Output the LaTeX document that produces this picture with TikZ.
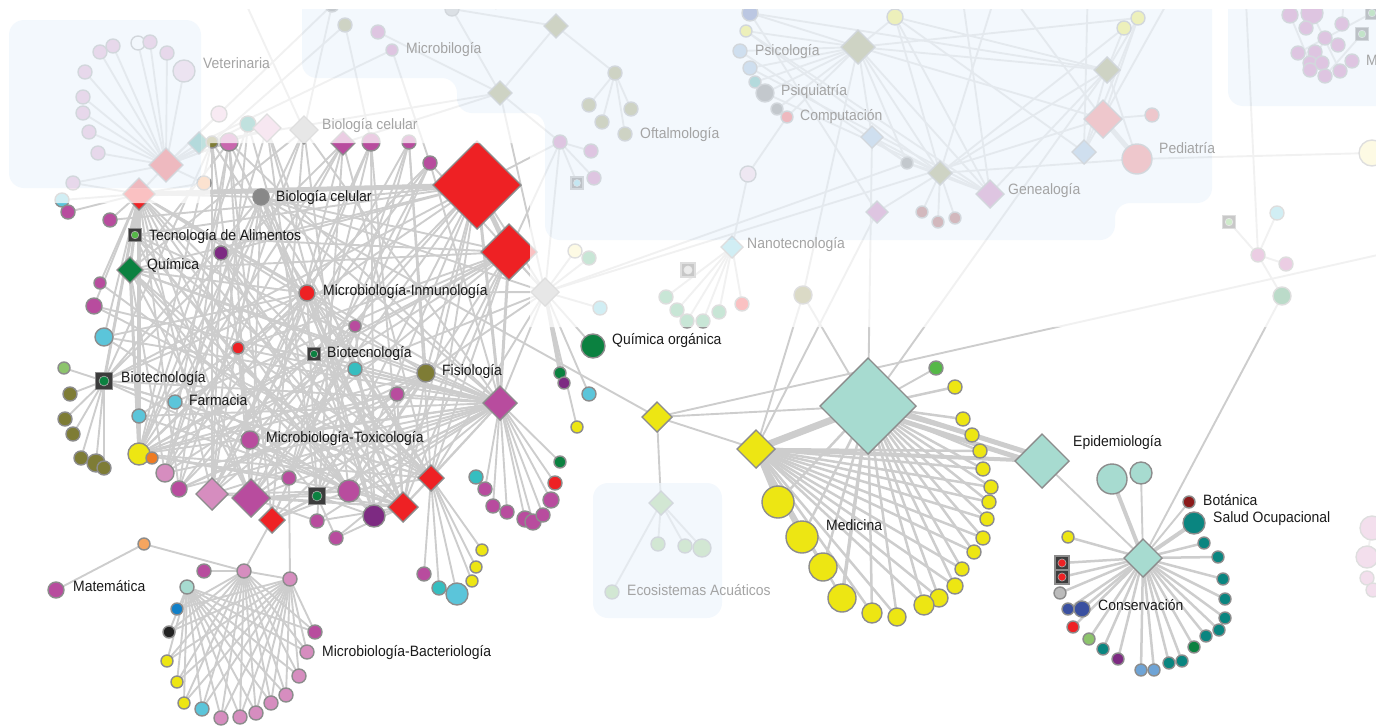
\documentclass[tikz,border=0pt]{standalone}
\usepackage{fontspec}
\newfontfamily\labfont{Liberation Sans}[FakeStretch=0.93]
\usetikzlibrary{shapes.geometric}
\definecolor{cred}{HTML}{EE2124}
\definecolor{cred2}{HTML}{EE5050}
\definecolor{cmag}{HTML}{B84C9E}
\definecolor{cmagl}{HTML}{C966AE}
\definecolor{cpinkl}{HTML}{D68DBF}
\definecolor{cpinkvl}{HTML}{E9B7D6}
\definecolor{cpinkv2}{HTML}{E3AAD0}
\definecolor{cpinkvvl}{HTML}{F1C6DB}
\definecolor{cpurple}{HTML}{7D2A82}
\definecolor{cdkgreen}{HTML}{0B8140}
\definecolor{clgreen}{HTML}{8DC46C}
\definecolor{clgreen2}{HTML}{55B847}
\definecolor{colive}{HTML}{7E7C35}
\definecolor{ccyan}{HTML}{5BC5DA}
\definecolor{cteal}{HTML}{36BEC0}
\definecolor{cteald}{HTML}{1E968C}
\definecolor{cteald2}{HTML}{0A8580}
\definecolor{cyellow}{HTML}{EDE613}
\definecolor{cyelp}{HTML}{F8F0A0}
\definecolor{cmint}{HTML}{A7DBD0}
\definecolor{cmint2}{HTML}{3BA66D}
\definecolor{cgrey}{HTML}{888888}
\definecolor{cgreyl}{HTML}{AAAAAA}
\definecolor{cgreyl2}{HTML}{BBBBBB}
\definecolor{cgreyd}{HTML}{555555}
\definecolor{corange}{HTML}{F49757}
\definecolor{corange2}{HTML}{EE7B22}
\definecolor{corangel}{HTML}{F5A55F}
\definecolor{cblue}{HTML}{1180C8}
\definecolor{cblack}{HTML}{222222}
\definecolor{cnavy}{HTML}{3A50A0}
\definecolor{csteel}{HTML}{6FA4D6}
\definecolor{cdkred}{HTML}{8B1A1A}
\definecolor{clblue}{HTML}{7FA6CF}
\definecolor{cedge}{HTML}{CDCDCD}
\definecolor{cstroke}{HTML}{8C8C8C}
\definecolor{csq}{HTML}{3C3C3C}
\definecolor{cpanel}{HTML}{EEF5FC}
\definecolor{ctext}{HTML}{1A1A1A}
\definecolor{cftext}{HTML}{A4A4A4}
\tikzset{
  cnode/.style={circle,draw=cstroke,line width=1.4pt,inner sep=0pt,outer sep=0pt},
  dnode/.style={diamond,draw=cstroke,line width=1.4pt,inner sep=0pt,outer sep=0pt},
  sqnode/.style={rectangle,draw=cstroke,fill=csq,line width=1.2pt,inner sep=0pt},
  sqdot/.style={circle,draw=cstroke!70,line width=0.6pt,inner sep=0pt},
  ed/.style={draw=cedge,line width=1.9pt},
  edm/.style={draw=cedge,line width=2.5pt},
  lab/.style={font=\labfont\fontsize{15pt}{18pt}\selectfont,inner sep=0pt,anchor=base west,text=ctext},
  flab/.style={lab,text=cftext}
}
\newcommand\setdef{%
  \def\NC##1##2##3##4##5{\coordinate (##1) at (##2,##3);}%
  \def\ND##1##2##3##4##5{\coordinate (##1) at (##2,##3);}%
  \def\NS##1##2##3##4##5{\coordinate (##1) at (##2,##3);}}
\newcommand\setdraw{%
  \def\NC##1##2##3##4##5{\node[cnode,minimum size=##4pt,fill=##5] (##1-n) at (##1) {};}%
  \def\ND##1##2##3##4##5{\node[dnode,minimum width=##4pt,minimum height=##4pt,fill=##5] (##1-n) at (##1) {};}%
  \def\NS##1##2##3##4##5{\node[sqnode,minimum size=##4pt] (##1-n) at (##1) {};\node[sqdot,minimum size=0.58*##4pt,fill=##5] (##1-d) at (##1) {};}}
\newcommand\allnodes{%
% Veterinaria (faded)
\NC{v1}{100}{52}{14}{cpinkl}
\NC{v2}{113}{46}{14}{cpinkl}
\NC{v3}{138}{43}{14}{white}
\NC{v4}{150}{42}{14}{cpinkl}
\NC{v5}{167}{53}{14}{cpinkl}
\NC{v6}{184}{71}{22}{cpinkvl}
\NC{v7}{85}{72}{14}{cpinkl}
\NC{v8}{83}{97}{14}{cpinkl}
\NC{v9}{83}{113}{14}{cpinkl}
\NC{v10}{89}{132}{14}{cpinkl}
\NC{v11}{98}{153}{14}{cpinkl}
\NC{v12}{219}{114}{16}{cpinkvl}
\NC{v13}{73}{183}{14}{cpinkl}
\ND{l11}{166}{165}{34}{cred}
\ND{l10}{139}{194}{32}{cred}
\ND{l12}{199}{143}{22}{cteald}
\NC{l13}{204}{183}{14}{corange}
\NC{l14}{62}{200}{14}{ccyan}
\NC{l16}{68}{212}{14}{cmag}
\NC{l17}{110}{220}{14}{cmag}
% top row
\NC{l1}{212}{142}{12}{colive}
\NC{l2}{229}{142}{18}{cmagl}
\NC{l3}{248}{124}{16}{cteald}
\ND{l4}{267}{128}{28}{cpinkv2}
\ND{l5}{304}{130}{28}{cgreyl}
\ND{l6}{343}{143}{24}{cmag}
\NC{l7}{371}{142}{18}{cmag}
\NC{l8}{409}{142}{14}{cmag}
\NC{l9}{430}{163}{14}{cmag}
\ND{R1}{477}{185}{88}{cred}
\ND{R2}{509}{252}{56}{cred}
\ND{g1}{545}{292}{28}{cgreyl}
% main cluster
\NC{bc}{261}{197}{16}{cgrey}
\NS{ta}{135}{235}{13}{clgreen2}
\NC{p1}{221}{253}{14}{cpurple}
\ND{qu}{130}{270}{26}{cdkgreen}
\NC{l18}{100}{283}{12}{cmag}
\NC{l19}{94}{306}{16}{cmag}
\NC{l20}{104}{337}{18}{ccyan}
\NC{mi}{307}{293}{16}{cred}
\NC{l21}{355}{326}{12}{cmag}
\NC{l22}{238}{348}{12}{cred}
\NS{bt1}{314}{354}{13}{cdkgreen}
\NC{l23}{355}{369}{14}{cteal}
\NC{fi}{426}{373}{18}{colive}
\NC{l24}{64}{368}{12}{clgreen}
\NS{bt2}{104}{381}{17}{cdkgreen}
\NC{l25}{70}{394}{14}{colive}
\NC{fa}{175}{402}{14}{ccyan}
\NC{l26}{397}{394}{14}{cmag}
\ND{M1}{500}{403}{34}{cmag}
\NC{l27}{65}{419}{14}{colive}
\NC{l28}{73}{434}{14}{colive}
\NC{l29}{139}{416}{14}{ccyan}
\NC{mt}{250}{440}{18}{cmag}
\NC{l30}{81}{458}{14}{colive}
\NC{l31}{96}{463}{18}{colive}
\NC{l32}{104}{468}{14}{colive}
\NC{l33}{139}{454}{22}{cyellow}
\NC{l34}{152}{458}{12}{corange2}
\NC{l35}{165}{473}{18}{cpinkl}
\NC{l36}{289}{478}{14}{cmag}
\ND{R3}{431}{478}{26}{cred}
\NC{l37}{476}{477}{14}{cteal}
\NC{l38}{179}{489}{16}{cmag}
\ND{D1}{212}{494}{32}{cpinkl}
\ND{D2}{251}{498}{38}{cmag}
\ND{R4}{272}{520}{26}{cred}
\NS{bt3}{317}{496}{17}{cdkgreen}
\NC{l39}{349}{491}{22}{cmag}
\NC{l40}{317}{521}{14}{cmag}
\NC{l41}{374}{516}{22}{cpurple}
\ND{R5}{403}{507}{30}{cred}
\NC{l42}{336}{538}{14}{cmag}
\NC{f1}{485}{489}{14}{cmag}
\NC{f2}{493}{506}{14}{cmag}
\NC{f3}{507}{512}{14}{cmag}
\NC{f4}{525}{519}{16}{cmag}
\NC{f5}{533}{522}{16}{cmag}
\NC{f6}{543}{515}{14}{cmag}
\NC{f7}{551}{500}{16}{cmag}
\NC{f8}{555}{483}{14}{cred}
\NC{f9}{560}{462}{12}{cdkgreen}
\NC{h1}{424}{574}{14}{cmag}
\NC{h2}{439}{588}{14}{cteal}
\NC{h3}{457}{594}{22}{ccyan}
\NC{h4}{472}{581}{12}{cyellow}
\NC{h5}{476}{567}{12}{cyellow}
\NC{h6}{482}{550}{12}{cyellow}
\NC{q1}{560}{373}{12}{cdkgreen}
\NC{q2}{564}{383}{12}{cpurple}
\NC{q3}{589}{394}{14}{ccyan}
\NC{q4}{577}{427}{12}{cyellow}
\NC{qo}{593}{346}{24}{cdkgreen}
% Bacteriologia
\NC{ma}{56}{590}{16}{cmag}
\NC{or}{144}{544}{12}{corangel}
\NC{b1}{204}{571}{14}{cmag}
\NC{b2}{244}{571}{14}{cpinkl}
\NC{b3}{290}{579}{14}{cpinkl}
\NC{b4}{187}{587}{14}{cmint}
\NC{a1}{177}{609}{12}{cblue}
\NC{a2}{169}{632}{12}{cblack}
\NC{a3}{167}{661}{12}{cyellow}
\NC{a4}{177}{682}{12}{cyellow}
\NC{a5}{184}{703}{12}{cyellow}
\NC{a6}{202}{709}{14}{ccyan}
\NC{a7}{221}{718}{14}{cpinkl}
\NC{a8}{240}{717}{14}{cpinkl}
\NC{a9}{256}{713}{14}{cpinkl}
\NC{a10}{271}{703}{14}{cpinkl}
\NC{a11}{286}{695}{14}{cpinkl}
\NC{a12}{299}{676}{14}{cpinkl}
\NC{a13}{307}{652}{14}{cpinkl}
\NC{a14}{315}{632}{14}{cmag}
% Medicina
\ND{Y1}{657}{417}{30}{cyellow}
\ND{Y2}{756}{449}{38}{cyellow}
\ND{MH}{868}{406}{96}{cmint}
\NC{m0}{936}{368}{14}{clgreen2}
\NC{m1}{955}{387}{14}{cyellow}
\NC{m2}{963}{419}{14}{cyellow}
\NC{m3}{972}{435}{14}{cyellow}
\NC{m4}{980}{451}{14}{cyellow}
\NC{m5}{983}{469}{14}{cyellow}
\NC{m6}{991}{487}{14}{cyellow}
\NC{m7}{989}{502}{14}{cyellow}
\NC{m8}{987}{519}{14}{cyellow}
\NC{m9}{983}{538}{14}{cyellow}
\NC{m10}{974}{552}{14}{cyellow}
\NC{m11}{962}{569}{14}{cyellow}
\NC{m12}{955}{586}{16}{cyellow}
\NC{m13}{939}{598}{18}{cyellow}
\NC{m14}{924}{605}{20}{cyellow}
\NC{m15}{897}{617}{18}{cyellow}
\NC{m16}{872}{613}{20}{cyellow}
\NC{m17}{842}{598}{28}{cyellow}
\NC{m18}{823}{567}{28}{cyellow}
\NC{m19}{802}{537}{32}{cyellow}
\NC{m20}{778}{502}{32}{cyellow}
% Epidemiologia / Conservacion
\ND{EP}{1042}{461}{54}{cmint}
\NC{e1}{1112}{479}{30}{cmint}
\NC{e2}{1141}{473}{22}{cmint}
\NC{e3}{1189}{502}{12}{cdkred}
\NC{e4}{1194}{523}{22}{cteald2}
\ND{CO}{1143}{558}{38}{cmint}
\NC{c1}{1068}{537}{12}{cyellow}
\NS{c2}{1062}{563}{14}{cred}
\NS{c3}{1062}{577}{14}{cred}
\NC{c4}{1060}{593}{12}{cgreyl2}
\NC{c5}{1068}{609}{12}{cnavy}
\NC{c6}{1082}{609}{16}{cnavy}
\NC{c7}{1073}{627}{12}{cred}
\NC{c8}{1089}{639}{12}{clgreen}
\NC{c9}{1103}{649}{12}{cteald2}
\NC{c10}{1118}{659}{12}{cpurple}
\NC{c11}{1141}{670}{12}{csteel}
\NC{c12}{1154}{670}{12}{csteel}
\NC{c13}{1169}{663}{12}{cteald2}
\NC{c14}{1182}{661}{12}{cteald2}
\NC{c15}{1194}{647}{12}{cdkgreen}
\NC{c16}{1206}{636}{12}{cteald2}
\NC{c17}{1219}{630}{12}{cteald2}
\NC{c18}{1225}{618}{12}{cteald2}
\NC{c19}{1225}{599}{12}{cteald2}
\NC{c20}{1223}{579}{12}{cteald2}
\NC{c21}{1218}{557}{12}{cteald2}
\NC{c22}{1204}{543}{12}{cteald2}
% top middle (faded)
\NC{t1}{332}{5}{14}{cgreyd}
\NC{t2}{345}{25}{14}{colive}
\NC{t3}{378}{32}{14}{cmag}
\NC{t4}{392}{50}{12}{cmag}
\NC{t5}{452}{9}{14}{cgreyl}
\ND{K1}{556}{26}{24}{colive}
\ND{K2}{500}{93}{24}{colive}
\NC{t6}{615}{73}{14}{colive}
\NC{t7}{589}{105}{14}{colive}
\NC{t8}{631}{109}{14}{colive}
\NC{t9}{602}{122}{14}{colive}
\NC{t10}{625}{134}{14}{colive}
\NC{P1}{560}{142}{14}{cmag}
\NC{p2}{591}{151}{14}{cmag}
\NC{p3}{594}{178}{14}{cmag}
\NS{p4}{577}{183}{12}{ccyan}
% Psicologia etc.
\NC{s1}{750}{13}{16}{cnavy}
\NC{s2}{746}{31}{12}{cyellow}
\NC{s3}{740}{51}{14}{clblue}
\NC{s4}{750}{68}{14}{clblue}
\NC{s5}{755}{82}{12}{cteald}
\NC{s6}{765}{93}{18}{cgreyd}
\NC{s7}{777}{109}{12}{cgreyd}
\NC{s8}{787}{117}{12}{cred}
\ND{K3}{858}{47}{34}{colive}
\NC{s9}{895}{17}{16}{cyellow}
\NC{s10}{748}{174}{16}{cpinkvvl}
\ND{s11}{872}{137}{22}{clblue}
\NC{s12}{907}{163}{12}{cgreyd}
\ND{K4}{940}{173}{24}{colive}
\ND{s13}{877}{212}{22}{cmag}
\ND{ge}{990}{194}{28}{cmag}
\NC{s14}{922}{212}{12}{cdkred}
\NC{s15}{938}{222}{12}{cdkred}
\NC{s16}{955}{218}{12}{cdkred}
\NC{s17}{1138}{18}{14}{cyellow}
\NC{s18}{1124}{28}{14}{cyellow}
\ND{K5}{1107}{70}{26}{colive}
\ND{pd1}{1103}{119}{38}{cred2}
\NC{pd2}{1152}{115}{14}{cred2}
\ND{s19}{1084}{152}{24}{clblue}
\NC{pd}{1137}{159}{30}{cred2}
\NC{s20}{1372}{153}{26}{cyelp}
% right panel
\NC{r1}{1290}{15}{16}{cmag}
\NC{r2}{1312}{13}{22}{cmag}
\NC{r3}{1306}{28}{14}{cmag}
\NC{r4}{1342}{24}{14}{cmag}
\NC{r5}{1325}{38}{14}{cmag}
\NC{r6}{1338}{45}{14}{cmag}
\NC{r7}{1298}{53}{14}{cmag}
\NC{r8}{1315}{52}{14}{cmag}
\NC{r9}{1310}{63}{14}{cmag}
\NC{r10}{1322}{63}{14}{cmag}
\NC{r11}{1310}{70}{14}{cmag}
\NC{r12}{1325}{76}{14}{cmag}
\NC{r13}{1340}{71}{14}{cmag}
\NC{r14}{1352}{61}{14}{cmag}
\NS{rs1}{1372}{13}{13}{clgreen2}
\NS{rs2}{1362}{34}{13}{clgreen2}
\NS{u1}{1229}{222}{13}{clgreen2}
\NC{u2}{1277}{213}{14}{ccyan}
\NC{u3}{1258}{255}{14}{cmag}
\NC{u4}{1286}{264}{14}{cmag}
\NC{u5}{1282}{296}{18}{cdkgreen}
% Nanotecnologia
\ND{na}{732}{247}{22}{ccyan}
\NS{n0}{688}{270}{14}{cgreyl2}
\NC{n1}{666}{297}{14}{cmint2}
\NC{n2}{677}{310}{14}{cmint2}
\NC{n3}{687}{321}{14}{cmint2}
\NC{n4}{703}{321}{14}{cmint2}
\NC{n5}{719}{312}{14}{cmint2}
\NC{n6}{742}{304}{14}{cred}
\NC{w1}{575}{251}{14}{cyelp}
\NC{w2}{589}{258}{14}{cmint2}
\NC{w3}{600}{308}{14}{ccyan}
\NC{w4}{803}{295}{18}{colive}
% Ecosistemas
\ND{ec}{661}{503}{24}{clgreen}
\NC{ec1}{658}{544}{14}{clgreen}
\NC{ec2}{685}{546}{14}{clgreen}
\NC{ec3}{702}{548}{18}{clgreen}
\NC{ec4}{612}{592}{14}{clgreen}
% right edge (faded)
\NC{z1}{1372}{528}{24}{cpinkl}
\NC{z2}{1367}{557}{22}{cpinkl}
\NC{z3}{1367}{578}{14}{cpinkl}
\NC{z4}{1373}{590}{14}{cpinkl}
}
\begin{document}
\begin{tikzpicture}[x=1pt,y=-1pt]
\useasboundingbox (0,0) rectangle (1387,726);
\clip (0,0) rectangle (1387,726);
\coordinate (offB) at (235,-20);
\coordinate (offC) at (1245,-20);
\coordinate (offE) at (1400,250);
\coordinate (offF) at (1088,-20);
\coordinate (offG) at (1000,-20);
\coordinate (offH) at (960,-20);
\coordinate (offI) at (1180,-20);
\coordinate (offJ) at (1290,-20);
\coordinate (offK) at (1345,-20);
\setdef\allnodes
% ---------- edges (faded part)
\foreach \a/\b in {l11/v1,l11/v2,l11/v3,l11/v4,l11/v5,l11/v6,l11/v7,l11/v8,l11/v9,l11/v10,l11/v11,l11/v12,l11/v13,l11/l12,l11/l3,l11/l13,l11/l2,l11/l4,
l10/l11,l10/l14,l10/l16,l10/l17,l10/v13,l10/l13,
l12/t4,l12/K2,l11/t1,offB/l5,l1/t2,t1/l5,t2/l7,t3/K2,t4/l9,t5/K2,K1/K2,K1/t6,K1/t5,K2/P1,K2/g1,K2/l6,
t6/t7,t6/t8,t6/t9,t6/t10,P1/p2,P1/p3,P1/p4,P1/R1,P1/R2,P1/g1,
K3/s1,K3/s2,K3/s3,K3/s4,K3/s5,K3/s6,K3/s7,K3/s8,K3/s9,K3/K5,K3/K4,K3/s12,K3/s11,K3/ge,K3/pd1,
s10/s8,s10/na,na/n1,na/n2,na/n3,na/n4,na/n5,na/n6,
g1/w1,g1/w2,g1/w3,w4/K3,
K4/s14,K4/s15,K4/s16,K4/pd,K4/s12,K4/ge,pd1/pd2,pd/s20,K5/s17,K5/s18,
s11/s12,s13/K4,s9/K5,s1/K5,s2/ge,s9/K4,K5/s19,K5/K4,s11/K4,s12/ge,s17/pd1,offF/s19,offG/K4,offH/ge,offI/s19,offC/u3,
K3/s17,s6/K4,s4/ge,s2/K4,s9/ge,s3/s12,K5/pd,K5/ge,s18/K4,s17/s19,offG/pd1,s9/s19,s1/s13,
u3/u1,u3/u2,u3/u4,u3/u5,
rs1/r7,rs2/r12,r2/r13,r5/r11,r1/r9,offJ/r2,offK/r4,g1/s12,g1/pd1,z1/z2}
  \draw[ed] (\a) -- (\b);
\draw[ed,line width=5pt] (pd1) -- (pd);
\draw[ed,line width=3pt] (l11) -- (l1);
% ---------- edges (main cluster)
\foreach \a/\b in {l1/D1,l1/bt2,l1/l33,l1/mt,l2/D2,l2/l38,l2/qu,l2/M1,l2/l35,l2/R5,l3/l33,l3/bt1,l4/R5,l4/l35,l4/l41,l5/l39,l5/R4,l5/fa,l5/qu,l5/M1,l6/R3,l6/D2,l6/l33,l6/bt2,l6/l40,l7/R5,l7/l41,l7/mt,l7/l36,l8/D1,l8/l36,l8/fi,l8/bt3,l9/M1,l9/l38,l9/R4,l9/l33,
l1/R3,l2/R4,l3/D1,l4/bt3,l5/l38,l6/l35,l7/D1,l8/R3,l9/D2,bc/l35,bc/D1,p1/R3,ta/l41,mi/bt3,mi/R5,l22/D2,l21/l41,l23/R5,fi/l39,fi/R5,l26/R5,l26/D2,R2/l41,R2/R5,R1/l39,R1/R3,
R1/D2,R1/bt3,R1/R5,R1/qu,R1/l17,R1/ta,R1/bt2,R1/mt,R1/l38,R1/fi,R1/p1,R1/l29,
R2/D1,R2/R3,R2/l39,R2/bt1,R2/l22,R2/qu,R2/l35,R2/fa,
l10/D2,l10/R5,l10/M1,l10/mi,l10/l39,l10/R3,l10/l20,l10/l19,l10/l18,l10/ta,l10/bc,l10/fi,l10/l36,l10/D1,l10/l38,
qu/M1,qu/R5,qu/D2,qu/bt3,qu/l41,qu/fi,qu/mi,qu/l35,
bt2/l24,bt2/l25,bt2/l27,bt2/l28,bt2/l30,bt2/l31,bt2/l32,bt2/M1,bt2/l39,bt2/R3,bt2/fa,bt2/mi,
l33/M1,l33/R3,l33/l39,l33/bt1,l33/mi,l33/fi,l33/R2,l33/l36,l33/l26,
M1/l26,M1/fi,M1/mt,M1/D1,M1/D2,M1/R4,M1/l38,M1/l35,M1/bt3,M1/l39,M1/R5,M1/R3,M1/l22,M1/bt1,M1/l23,M1/ta,M1/bc,M1/l19,M1/l20,M1/l29,M1/l42,M1/l40,
M1/f1,M1/f2,M1/f3,M1/f4,M1/f5,M1/f6,M1/f7,M1/f8,M1/f9,
mi/D1,mi/R3,mi/l41,mi/l35,mi/l20,mi/l21,
bc/R3,bc/D2,bc/l41,bc/bt2,bc/R2,bc/Y1,bc/l33,bc/R5,
p1/R5,p1/l33,p1/l39,p1/D1,ta/R3,ta/l39,ta/R2,ta/D2,
fi/D2,fi/l38,fi/R4,fi/bt3,mt/R5,mt/l36,
D2/R5,D2/bt3,D2/l39,D1/l39,D1/R5,R4/bt3,R4/l39,bt3/R5,l39/R5,l41/R5,l42/bt3,l42/R5,l40/D2,R5/R3,R3/l39,l41/bt3,l40/R5,
l21/R4,l21/D1,l22/R3,l23/D2,l26/l38,l29/R5,fa/R3,fa/l39,l20/l39,l19/R3,l18/R5,
R4/b2,b3/l36,R3/h1,R3/h2,R3/h3,R3/h4,R3/h5,R3/h6,
g1/q2,g1/q3,g1/q4,g1/qo,g1/R2,g1/R1,g1/l33,g1/mi,g1/bc,g1/fi,g1/M1,g1/l9,g1/R3,
Y1/MH,Y1/Y2,Y1/ec,Y1/offE,Y2/w4,Y2/s13,MH/w4,MH/s11,MH/K5,MH/m0,
EP/CO,CO/e2,CO/e3,CO/u5,or/ma,or/b2,b1/b2,b2/b3,
ec/ec1,ec/ec2,ec/ec3,ec/ec4}
  \draw[ed] (\a) -- (\b);
\foreach \i in {1,...,14} {\draw[ed] (b2) -- (a\i); \draw[ed] (b3) -- (a\i);}
\foreach \i in {2,...,14} \draw[ed] (b4) -- (a\i);
\foreach \i in {1,...,20} \draw[edm] (MH) -- (m\i);
\foreach \i in {4,...,18} \draw[edm] (Y2) -- (m\i);
\foreach \i in {1,...,22} \draw[edm] (CO) -- (c\i);
% thick edges
\draw[ed,line width=5pt] (l10) -- (R1);
\draw[ed,line width=4pt] (l10) -- (l33);
\draw[ed,line width=3pt] (l10) -- (bt2);
\draw[ed,line width=3pt] (l10) -- (qu);
\draw[ed,line width=3pt] (qu) -- (l33);
\draw[ed,line width=5pt] (R1) -- (R2);
\draw[ed,line width=3pt] (R2) -- (M1);
\draw[ed,line width=3pt] (R1) -- (M1);
\draw[ed,line width=3.5pt] (g1) -- (q1);
\draw[ed,line width=7pt] (MH) -- (Y2);
\draw[ed,line width=5pt,transform canvas={yshift=4pt}] (MH) -- (EP);
\draw[ed,line width=5pt,transform canvas={yshift=-4pt}] (MH) -- (EP);
\draw[ed,line width=4pt] (Y2) -- (EP);
\draw[ed,line width=4.5pt] (Y2) -- (m20);
\draw[ed,line width=3.5pt] (Y2) -- (m19);
\draw[ed,line width=3.5pt] (MH) -- (m17);
\draw[ed,line width=4pt] (CO) -- (e1);
\draw[ed,line width=4pt] (CO) -- (e4);
% ---------- nodes
\setdraw\allnodes
% ---------- faded overlay and panels
\fill[white,fill opacity=0.72,even odd rule]
  (-5,-5) -- (1392,-5) -- (1392,327) -- (530,327) -- (530,143) -- (210,143) -- (210,203) -- (-5,203) -- cycle
  [rounded corners=15pt] (9,20) rectangle (201,188)
  (302,-20) -- (302,78) -- (457,78) -- (457,113) -- (545,113) -- (545,240) -- (1115,240) -- (1115,203) -- (1212,203) -- (1212,-20) -- cycle
  (1228,-20) rectangle (1400,106);
\fill[cpanel,fill opacity=0.72,rounded corners=15pt]
  (9,20) rectangle (201,188)
  (302,-20) -- (302,78) -- (457,78) -- (457,113) -- (545,113) -- (545,240) -- (1115,240) -- (1115,203) -- (1212,203) -- (1212,-20) -- cycle
  (1228,-20) rectangle (1400,106)
  (593,483) rectangle (722,618);
\fill[white,fill opacity=0.72] (1352,505) rectangle (1392,612);
% ---------- labels (faded)
\node[flab] (lbVet) at (203,68) {Veterinaria};
\node[flab] (lbMicb) at (406,53) {Microbilogía};
\node[flab] (lbOrt) at (467,6) {Ortopedia};
\node[flab] (lbBcf) at (322,129) {Biología celular};
\node[flab] (lbOft) at (640,138) {Oftalmología};
\node[flab] (lbPsic) at (755,55) {Psicología};
\node[flab] (lbPsiq) at (781,95) {Psiquiatría};
\node[flab] (lbComp) at (800,120) {Computación};
\node[flab] (lbPed) at (1159,153) {Pediatría};
\node[flab] (lbGen) at (1008,194) {Genealogía};
\node[flab] (lbNano) at (747,248) {Nanotecnología};
\node[flab] (lbEco) at (627,595) {Ecosistemas Acuáticos};
\node[flab] (lbM) at (1366,65) {M};
% ---------- labels (main)
\node[lab] (lbBc) at (276,201) {Biología celular};
\node[lab] (lbTa) at (149,240) {Tecnología de Alimentos};
\node[lab] (lbQu) at (147,269) {Química};
\node[lab] (lbMi) at (323,295) {Microbiología-Inmunología};
\node[lab] (lbBt1) at (327,357) {Biotecnología};
\node[lab] (lbFi) at (442,375) {Fisiología};
\node[lab] (lbBt2) at (121,382) {Biotecnología};
\node[lab] (lbFa) at (189,405) {Farmacia};
\node[lab] (lbMt) at (266,442) {Microbiología-Toxicología};
\node[lab] (lbQo) at (612,344) {Química orgánica};
\node[lab] (lbEp) at (1073,446) {Epidemiología};
\node[lab] (lbMed) at (826,530) {Medicina};
\node[lab] (lbBot) at (1203,505) {Botánica};
\node[lab] (lbSo) at (1213,522) {Salud Ocupacional};
\node[lab] (lbCo) at (1098,610) {Conservación};
\node[lab] (lbMa) at (73,591) {Matemática};
\node[lab] (lbMb) at (322,656) {Microbiología-Bacteriología};
% ---------- white margins
\fill[white] (-5,-5) rectangle (1392,9);
\fill[white] (1376,-5) rectangle (1392,731);
\end{tikzpicture}
\end{document}
